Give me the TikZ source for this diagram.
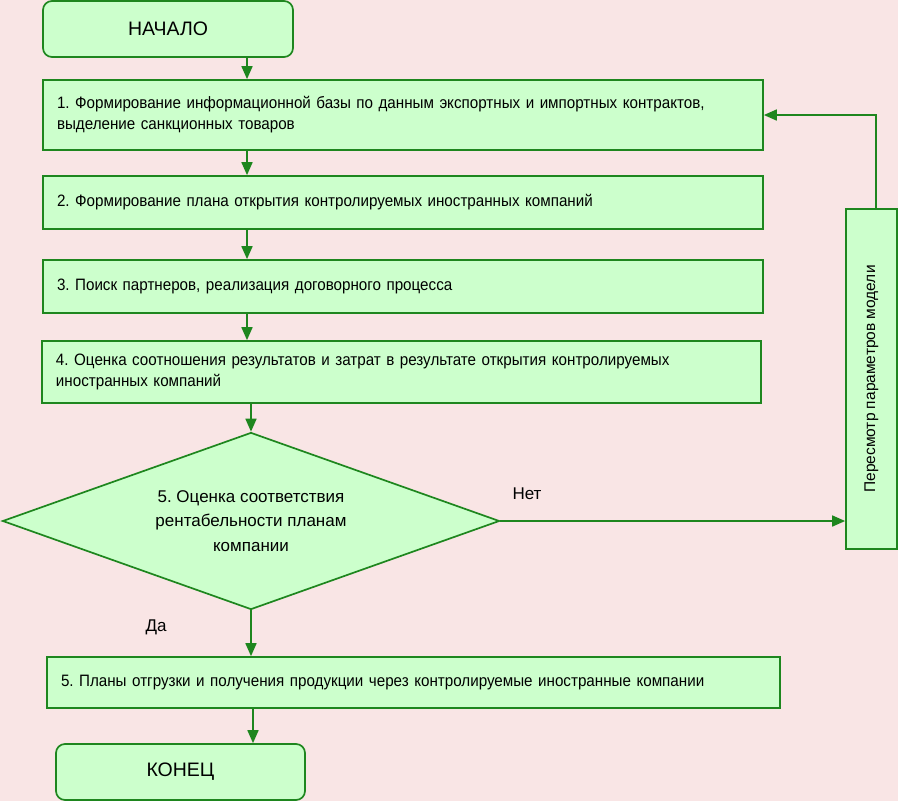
\documentclass[tikz,border=0pt]{standalone}
\usepackage{fontspec}
\setmainfont{Liberation Sans}
\newfontfamily\narrowfont[FakeStretch=0.92]{Liberation Sans}
\usetikzlibrary{shapes.geometric,arrows.meta}
\definecolor{bgpink}{HTML}{F9E5E5}
\definecolor{boxgreen}{HTML}{CCFFCC}
\definecolor{edgegreen}{HTML}{1E861E}
\frenchspacing
\begin{document}
\begin{tikzpicture}[x=1pt,y=-1pt,
   blk/.style={draw=edgegreen,fill=boxgreen,line width=1.7pt,rectangle,
     inner xsep=14pt,align=left,font=\narrowfont\fontsize{16.5}{21}\selectfont},
   term/.style={draw=edgegreen,fill=boxgreen,line width=1.7pt,rectangle,
     rounded corners=9pt,minimum width=250pt,minimum height=56pt,
     font=\fontsize{19.5}{23}\selectfont},
   arr/.style={draw=edgegreen,line width=1.7pt,-{Triangle[length=13pt,width=11pt]}}]
   \fill[bgpink] (0,0) rectangle (898,801);
   \useasboundingbox (0,0) rectangle (898,801);
   % blocks
   \node[term] (start) at (168,29) {НАЧАЛО};
   \node[blk,minimum width=720pt,minimum height=70pt,text width=692pt] (b1) at (403,115)
      {1. Формирование информационной базы по данным экспортных и импортных контрактов,\\
       выделение санкционных товаров};
   \node[blk,minimum width=720pt,minimum height=53pt,text width=692pt] (b2) at (403,202.5)
      {2. Формирование плана открытия контролируемых иностранных компаний};
   \node[blk,minimum width=720pt,minimum height=53pt,text width=692pt] (b3) at (403,286.5)
      {3. Поиск партнеров, реализация договорного процесса};
   \node[blk,minimum width=719pt,minimum height=62pt,text width=691pt] (b4) at (401.5,372)
      {4. Оценка соотношения результатов и затрат в результате открытия контролируемых\\
       иностранных компаний};
   \node[diamond,aspect=2.8,draw=edgegreen,fill=boxgreen,line width=1.7pt,minimum width=497pt,
      minimum height=177pt,inner sep=0pt,align=center,font=\fontsize{17}{24.5}\selectfont]
      (dec) at (251,521) {5. Оценка соответствия\\рентабельности планам\\компании};
   \node[blk,minimum width=733pt,minimum height=51pt,text width=705pt] (b5) at (413.5,682.5)
      {5. Планы отгрузки и получения продукции через контролируемые иностранные компании};
   \node[term,minimum width=249pt] (stop) at (180.5,772) {КОНЕЦ};
   \node[draw=edgegreen,fill=boxgreen,line width=1.7pt,minimum width=51pt,minimum height=340pt]
      (rev) at (871.5,379) {};
   \node[rotate=90,font=\fontsize{15.5}{18}\selectfont] (revtext) at (rev.center) {Пересмотр параметров модели};
   % labels
   \node[font=\fontsize{17}{19}\selectfont] (no) at (527,494) {Нет};
   \node[font=\fontsize{17}{19}\selectfont] (yes) at (156,627) {Да};
   % connectors
   \coordinate (c1) at (247,0);
   \coordinate (c2) at (251,0);
   \coordinate (c3) at (253,0);
   \coordinate (fb) at (876,0);
   \draw[arr] (start.south -| c1) -- (b1.north -| c1);
   \draw[arr] (b1.south -| c1) -- (b2.north -| c1);
   \draw[arr] (b2.south -| c1) -- (b3.north -| c1);
   \draw[arr] (b3.south -| c1) -- (b4.north -| c1);
   \draw[arr] (b4.south -| c2) -- (dec.north -| c2);
   \draw[arr] (dec.south -| c2) -- (b5.north -| c2);
   \draw[arr] (b5.south -| c3) -- (stop.north -| c3);
   \draw[arr] (dec.east) -- (dec.east -| rev.west);
   \draw[arr] (rev.north -| fb) -- (fb |- b1.east) -- (b1.east);
\end{tikzpicture}
\end{document}
